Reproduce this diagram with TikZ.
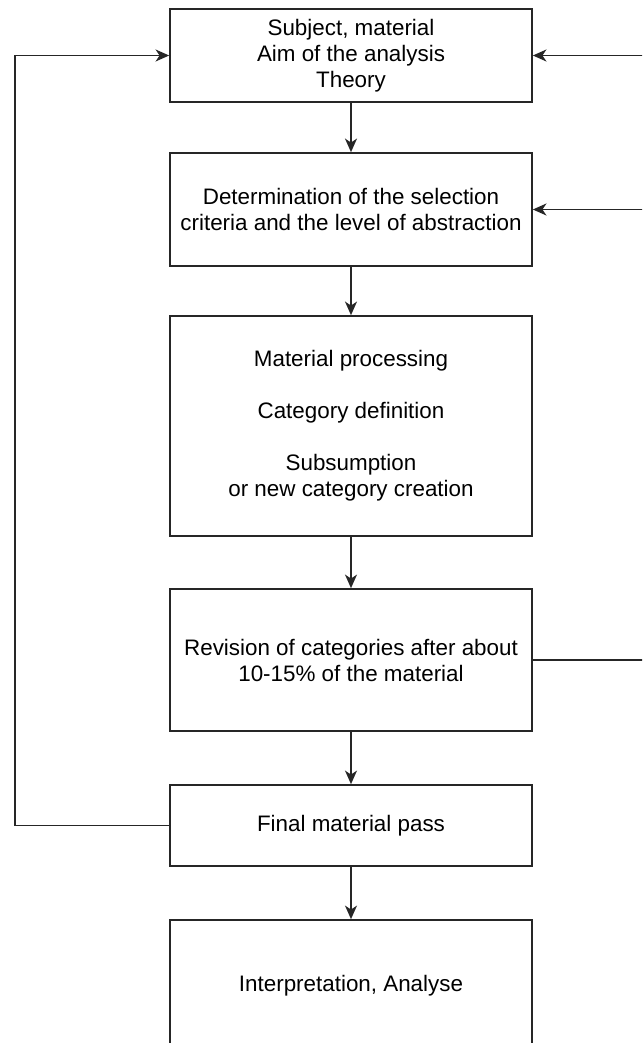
\documentclass[tikz,border=0pt]{standalone}
\usepackage{fontspec}
\setmainfont{Liberation Sans}
\usepackage{xcolor}
\usepackage{tikz}
\usetikzlibrary{arrows.meta}
\definecolor{linecolor}{HTML}{262626}

\begin{document}
\begin{tikzpicture}[
  stagebox/.style={draw=linecolor, rectangle, line width=1.2pt, minimum width=9.05cm, align=center, font=\fontsize{0.56cm}{0.65cm}\selectfont},
  flow/.style={draw=linecolor, line width=1.2pt, -{Stealth[length=0.34cm, width=0.3cm, inset=0.1cm]}},
  rail/.style={draw=linecolor, line width=1.2pt}
]%
\useasboundingbox (0,0) rectangle (16.05,-26.075);%
\clip (0,0) rectangle (16.05,-26.075);%
\node[stagebox, minimum height=2.325cm] (subj) at (8.775, -1.3875) {Subject, material\\Aim of the analysis\\Theory};%
\node[stagebox, minimum height=2.825cm] (crit) at (8.775, -5.2375) {Determination of the selection\\criteria and the level of abstraction};%
\node[stagebox, minimum height=5.5cm] (proc) at (8.775, -10.65) {Material processing\\[0.65cm]Category definition\\[0.65cm]Subsumption\\or new category creation};%
\node[stagebox, minimum height=3.55cm] (rev) at (8.775, -16.5) {Revision of categories after about\\10-15\% of the material};%
\node[stagebox, minimum height=2.025cm] (pass) at (8.775, -20.6375) {Final material pass};%
\node[stagebox, minimum height=3.3cm] (interp) at (8.775, -24.65) {Interpretation, Analyse};%
\coordinate (leftrail) at (0.375, 0);%
\coordinate (rightrail) at (16.4, 0);%
\draw[flow] (subj) -- (crit);%
\draw[flow] (crit) -- (proc);%
\draw[flow] (proc) -- (rev);%
\draw[flow] (rev) -- (pass);%
\draw[flow] (pass) -- (interp);%
\draw[flow] (pass.west) -- (pass.west -| leftrail) -- (subj.west -| leftrail) -- (subj.west);%
\draw[rail] (rev.east) -- (rev.east -| rightrail) -- (subj.east -| rightrail);%
\draw[flow] (subj.east -| rightrail) -- (subj.east);%
\draw[flow] (crit.east -| rightrail) -- (crit.east);%
\end{tikzpicture}
\end{document}
